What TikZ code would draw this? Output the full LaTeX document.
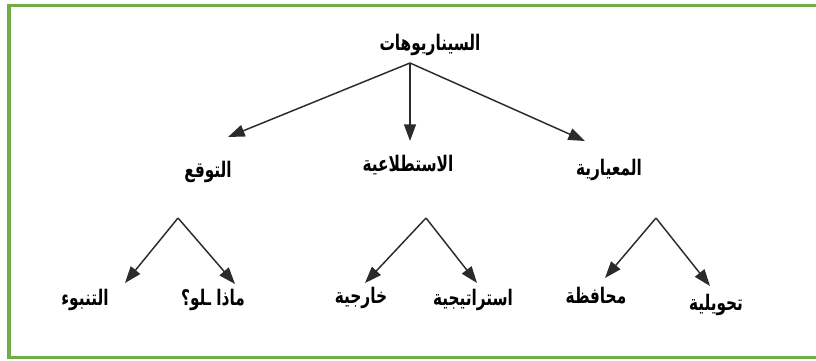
\documentclass[tikz,border=0pt]{standalone}
\usepackage{fontspec}
\usetikzlibrary{arrows.meta}
\TeXXeTstate=1
\newfontfamily\arabicfont[Script=Arabic]{DejaVu Sans}
\definecolor{framegreen}{HTML}{70AD47}
\definecolor{inkgray}{HTML}{2B2B2B}
% bold Arabic label, stretched upright
\newcommand{\arlabel}[1]{\scalebox{1}[1.4]{\beginR #1\endR}}
\tikzset{
  lbl/.style={font=\arabicfont\bfseries\fontsize{11.5pt}{13pt}\selectfont, inner sep=0pt, text=black},
  branch/.style={draw=inkgray, line width=1.1pt, -{Triangle[length=12.5pt,width=9pt]}},
}
\begin{document}
\begin{tikzpicture}[x=0.75pt,y=-0.75pt]
  \useasboundingbox (0,0) rectangle (816,360);
  \clip (0,0) rectangle (816,360);
  % green frame, open on the right
  \draw[framegreen, line width=2.4pt] (830,5.5) -- (9,5.5) -- (9,357.5) -- (830,357.5);

  % root
  \node[lbl] (root) at (430,45) {\arlabel{السيناريوهات}};
  \coordinate (rootfork) at (410,63);

  % second level
  \node[lbl] (expect) at (208,172) {\arlabel{التوقع}};
  \node[lbl] (explore) at (408,165) {\arlabel{الاستطلاعية}};
  \node[lbl] (norm) at (609,170) {\arlabel{المعيارية}};
  \coordinate (tipA) at (228,137);
  \coordinate (tipB) at (410,141);
  \coordinate (tipC) at (585,141);
  \draw[branch] (rootfork) -- (tipA);
  \draw[branch] (rootfork) -- (tipB);
  \draw[branch] (rootfork) -- (tipC);

  % third level
  \coordinate (forkA) at (178,218);
  \coordinate (forkB) at (426,218);
  \coordinate (forkC) at (656,218);

  \node[lbl] (forecast) at (85,300) {\arlabel{التنبوء}};
  \node[lbl] (whatif) at (213,300) {\arlabel{ماذا ـلو؟}};
  \node[lbl] (external) at (361,298) {\arlabel{خارجية}};
  \node[lbl] (strategic) at (473,300) {\arlabel{استراتيجية}};
  \node[lbl] (preserve) at (596,296) {\arlabel{محافظة}};
  \node[lbl] (transform) at (716,305) {\arlabel{تحويلية}};

  \coordinate (tipA1) at (125,283);
  \coordinate (tipA2) at (235,284);
  \coordinate (tipB1) at (365,283);
  \coordinate (tipB2) at (477,283);
  \coordinate (tipC1) at (605,278);
  \coordinate (tipC2) at (710,286);

  \draw[branch] (forkA) -- (tipA1);
  \draw[branch] (forkA) -- (tipA2);
  \draw[branch] (forkB) -- (tipB1);
  \draw[branch] (forkB) -- (tipB2);
  \draw[branch] (forkC) -- (tipC1);
  \draw[branch] (forkC) -- (tipC2);
\end{tikzpicture}
\end{document}
